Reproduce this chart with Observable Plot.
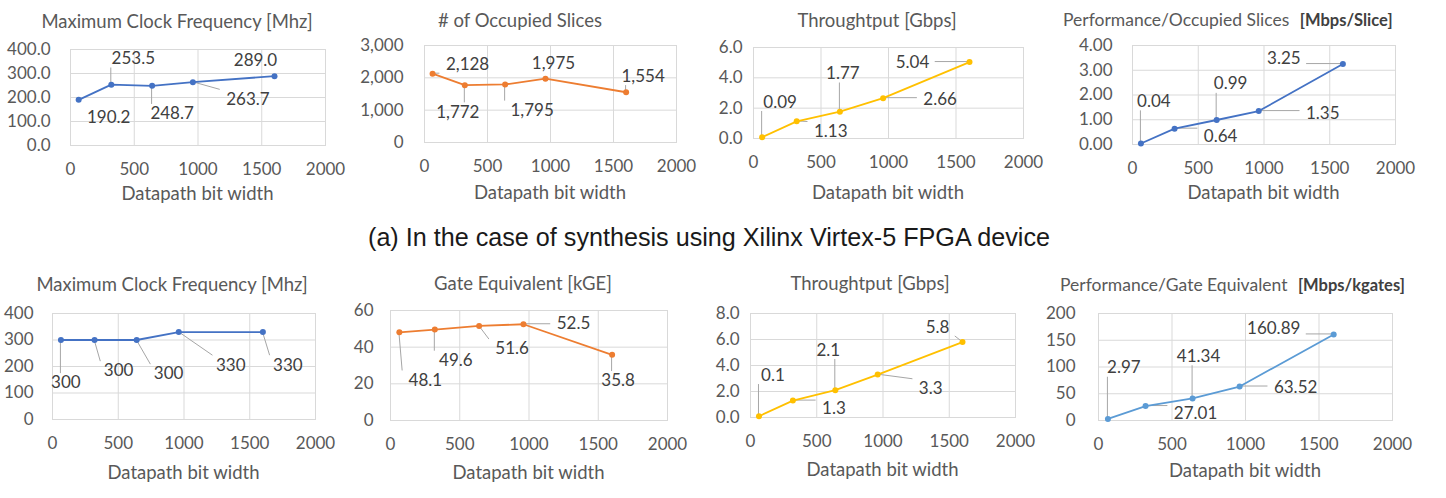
<!DOCTYPE html>
<html>
<head>
<meta charset="utf-8">
<script src="https://cdn.jsdelivr.net/npm/d3@7"></script>
<script src="https://cdn.jsdelivr.net/npm/@observablehq/plot@0.6"></script>
<style>
  body { margin: 0; background: #fff; }
  #chart { position: relative; width: 1446px; height: 498px; background: #fff; overflow: hidden; font-family: Lato, "Open Sans", sans-serif; }
  #chart svg { position: absolute; overflow: visible; }
  .ttl, .xlab { position: absolute; white-space: nowrap; font-size: 18.5px; color: #595959; line-height: 1; }
  .ttl.unit { font-size: 17.5px; }
  .ttl b { color: #404040; font-weight: 700; font-size: 16.5px; margin-left: 6px; }
</style>
</head>
<body>
<div id="chart"></div>
<script>
// Datapath widths (bits) shared by every panel
const bitWidths = [64, 320, 640, 960, 1600];
const xTicks = [0, 500, 1000, 1500, 2000];

// (a) Xilinx Virtex-5 FPGA synthesis
const fpgaClockMhz = [190.2, 253.5, 248.7, 263.7, 289.0];
const fpgaSlices = [2128, 1772, 1795, 1975, 1554];
const fpgaThroughputGbps = [0.09, 1.13, 1.77, 2.66, 5.04];
const fpgaMbpsPerSlice = [0.04, 0.64, 0.99, 1.35, 3.25];

// ASIC (gate-level) synthesis
const asicClockMhz = [300, 300, 300, 330, 330];
const asicGateKGE = [48.1, 49.6, 51.6, 52.5, 35.8];
const asicThroughputGbps = [0.1, 1.3, 2.1, 3.3, 5.8];
const asicMbpsPerKgate = [2.97, 27.01, 41.34, 63.52, 160.89];

// Y tick values per panel
const fpgaClockTicks = [0, 100, 200, 300, 400];
const fpgaSliceTicks = [0, 1000, 2000, 3000];
const fpgaThroughputTicks = [0, 2, 4, 6];
const fpgaPerfTicks = [0, 1, 2, 3, 4];
const asicClockTicks = [0, 100, 200, 300, 400];
const asicGateTicks = [0, 20, 40, 60];
const asicThroughputTicks = [0, 2, 4, 6, 8];
const asicPerfTicks = [0, 50, 100, 150, 200];

const xLabel = "Datapath bit width";
const caption = "(a) In the case of synthesis using Xilinx Virtex-5 FPGA device";

const BLUE = "#4472C4", ORANGE = "#ED7D31", GOLD = "#FFC000", LIGHTBLUE = "#5B9BD5";
const FS = 17;

// Layout of each small chart: frame [left, right, top, bottom], label offsets in px
const panels = [
  {values: fpgaClockMhz, yTicks: fpgaClockTicks, fmt: ".1f", lfmt: ".1f", color: BLUE,
   title: "Maximum Clock Frequency [Mhz]", titleAt: [177, 21], frame: [70, 325, 49, 145], yPad: 20, xLabY: 193,
   offsets: [[30, 18], [22, -26], [20, 28], [55, 17], [-19, -16]], leaders: [0, 1, 1, 1, 0]},
  {values: fpgaSlices, yTicks: fpgaSliceTicks, fmt: ",", lfmt: ",", color: ORANGE,
   title: "# of Occupied Slices", titleAt: [520, 20], frame: [424, 676, 45, 142], yPad: 21, xLabY: 192,
   offsets: [[35, -9], [-7, 27], [27, 26], [8, -15], [17, -16]], leaders: [1, 1, 1, 0, 1]},
  {values: fpgaThroughputGbps, yTicks: fpgaThroughputTicks, fmt: ".1f", lfmt: ".2f", color: GOLD,
   title: "Throughtput [Gbps]", titleAt: [877, 20], frame: [753, 1023, 47, 138], yPad: 11, xLabY: 192,
   offsets: [[18, -35], [34, 10], [3, -38], [57, 1], [-57, 0]], leaders: [1, 1, 1, 1, 1]},
  {values: fpgaMbpsPerSlice, yTicks: fpgaPerfTicks, fmt: ".2f", lfmt: ".2f", color: BLUE,
   title: "Performance/Occupied Slices", unit: "[Mbps/Slice]", titleLeft: [1063, 20], frame: [1132, 1395, 45, 144], yPad: 20, xLabY: 192,
   offsets: [[13, -42], [46, 8], [14, -36], [64, 2], [-59, -6]], leaders: [1, 1, 1, 1, 1]},
  {values: asicClockMhz, yTicks: asicClockTicks, fmt: "d", lfmt: "d", color: BLUE,
   title: "Maximum Clock Frequency [Mhz]", titleAt: [172, 284], frame: [52, 315, 313, 419], yPad: 19, xLabY: 472,
   offsets: [[5, 43], [24, 31], [32, 34], [52, 33], [25, 33]], leaders: [1, 1, 1, 1, 1]},
  {values: asicGateKGE, yTicks: asicGateTicks, fmt: "d", lfmt: ".1f", color: ORANGE,
   title: "Gate Equivalent [kGE]", titleAt: [523, 283], frame: [390, 667, 310, 420], yPad: 17, xLabY: 472,
   offsets: [[26, 48], [21, 31], [33, 23], [50, -1], [6, 26]], leaders: [1, 1, 1, 1, 1]},
  {values: asicThroughputGbps, yTicks: asicThroughputTicks, fmt: ".1f", lfmt: ".1f", color: GOLD,
   title: "Throughtput [Gbps]", titleAt: [870, 283], frame: [750, 1015, 313, 417], yPad: 11, xLabY: 469,
   offsets: [[14, -41], [41, 8], [-7, -40], [53, 14], [-25, -15]], leaders: [1, 1, 1, 1, 1]},
  {values: asicMbpsPerKgate, yTicks: asicPerfTicks, fmt: "d", lfmt: ".2f", color: LIGHTBLUE,
   title: "Performance/Gate Equivalent", unit: "[Mbps/kgates]", titleLeft: [1060, 285], frame: [1098, 1392, 313, 420], yPad: 23, xLabY: 470,
   offsets: [[16, -51], [50, 7], [6, -42], [56, 1], [-60, -6]], leaders: [1, 1, 1, 1, 1]}
];

const root = document.getElementById("chart");

// Leader lines from each label box edge to its point
function leaderMark(rows, offsets, show) {
  return (index, scales) => {
    const g = d3.create("svg:g").attr("fill", "none").attr("stroke", "#a6a6a6").attr("stroke-width", 1);
    rows.forEach((r, i) => {
      if (!show[i]) return;
      const px = scales.x(r.x), py = scales.y(r.y);
      const lx = px + offsets[i][0], ly = py + offsets[i][1];
      const hw = r.label.length * FS * 0.29 + 3, hh = FS * 0.55;
      const ex = Math.max(lx - hw, Math.min(px, lx + hw));
      const ey = Math.max(ly - hh, Math.min(py, ly + hh));
      g.append("line").attr("x1", ex).attr("y1", ey).attr("x2", px).attr("y2", py);
    });
    return g.node();
  };
}

for (const p of panels) {
  const [L, R, T, B] = p.frame;
  const mL = 70, mR = 40, mT = 40, mB = 30;
  const lf = d3.format(p.lfmt);
  const rows = bitWidths.map((x, i) => ({x, y: p.values[i], label: lf(p.values[i])}));
  const yMax = p.yTicks[p.yTicks.length - 1];

  const labelMarks = rows.map((r, i) => Plot.text([r], {
    x: "x", y: "y", text: "label", dx: p.offsets[i][0], dy: p.offsets[i][1],
    fill: "#404040", fontSize: FS
  }));

  const svg = Plot.plot({
    width: R - L + mL + mR,
    height: B - T + mT + mB,
    marginLeft: mL, marginRight: mR, marginTop: mT, marginBottom: mB,
    style: {fontFamily: "Lato, 'Open Sans', sans-serif", fontSize: FS + "px", color: "#595959", background: "transparent", overflow: "visible"},
    x: {domain: [0, 2000], ticks: xTicks, tickSize: 0, tickPadding: 17, label: null, tickFormat: d3.format("d")},
    y: {domain: [0, yMax], ticks: p.yTicks, tickSize: 0, tickPadding: p.yPad, label: null, tickFormat: d3.format(p.fmt)},
    marks: [
      Plot.ruleX(xTicks, {stroke: "#d9d9d9", strokeWidth: 1}),
      Plot.ruleY(p.yTicks, {stroke: "#d9d9d9", strokeWidth: 1}),
      Plot.frame({stroke: "#d9d9d9"}),
      leaderMark(rows, p.offsets, p.leaders),
      Plot.line(rows, {x: "x", y: "y", stroke: p.color, strokeWidth: 1.8}),
      Plot.dot(rows, {x: "x", y: "y", fill: p.color, r: 3}),
      ...labelMarks
    ]
  });
  svg.style.left = (L - mL) + "px";
  svg.style.top = (T - mT) + "px";
  root.appendChild(svg);

  const t = document.createElement("div");
  t.className = "ttl";
  if (p.unit) {
    t.classList.add("unit");
    t.innerHTML = p.title + " <b>" + p.unit + "</b>";
    t.style.left = p.titleLeft[0] + "px";
    t.style.top = p.titleLeft[1] + "px";
    t.style.transform = "translate(0,-50%)";
  } else {
    t.textContent = p.title;
    t.style.left = p.titleAt[0] + "px";
    t.style.top = p.titleAt[1] + "px";
    t.style.transform = "translate(-50%,-50%)";
  }
  root.appendChild(t);

  const xl = document.createElement("div");
  xl.className = "xlab";
  xl.textContent = xLabel;
  xl.style.left = ((L + R) / 2) + "px";
  xl.style.top = p.xLabY + "px";
  xl.style.transform = "translate(-50%,-50%)";
  root.appendChild(xl);
}

// Caption between the two rows, set in a condensed face
const capSvg = d3.create("svg").attr("width", 1446).attr("height", 40)
  .style("left", "0px").style("top", "218px");
capSvg.append("text")
  .attr("x", 709).attr("y", 21).attr("text-anchor", "middle").attr("dominant-baseline", "middle")
  .attr("fill", "#1a1a1a").attr("font-size", 25)
  .attr("textLength", 682).attr("lengthAdjust", "spacingAndGlyphs")
  .attr("font-family", "'Liberation Sans Narrow', 'Arial Narrow', 'Liberation Sans', sans-serif")
  .text(caption);
root.appendChild(capSvg.node());
</script>
</body>
</html>
